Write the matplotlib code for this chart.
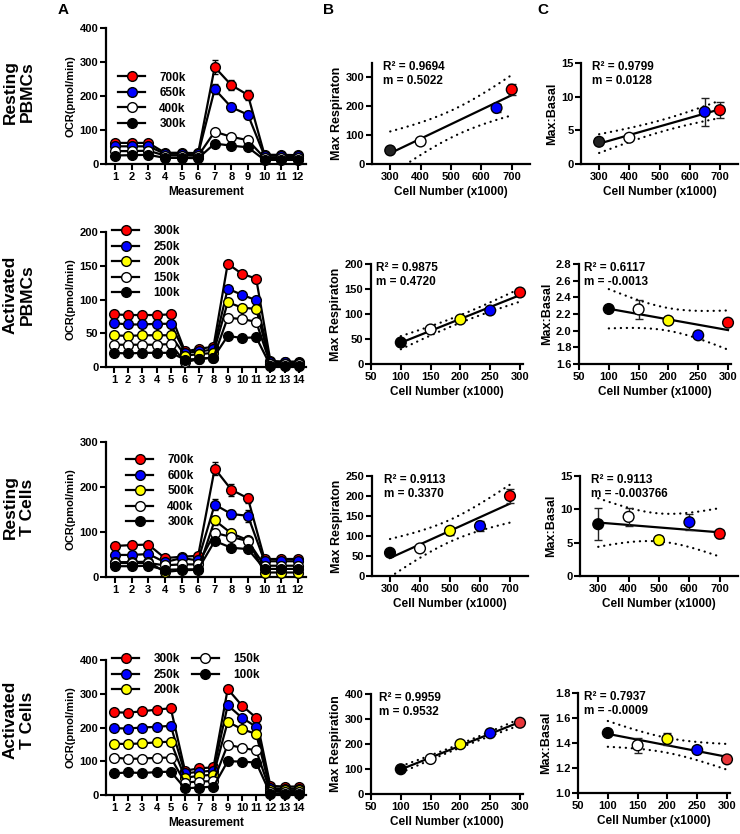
import numpy as np
import matplotlib.pyplot as plt
from matplotlib.lines import Line2D

plt.rcParams['font.family'] = ['Liberation Sans', 'DejaVu Sans']
plt.rcParams['font.weight'] = 'bold'
plt.rcParams['axes.labelweight'] = 'bold'

W, H = 740, 834

# ---------------- data ----------------
# Resting PBMCs (12 measurements)
rp_labels = ['700k', '650k', '400k', '300k']
rp_colors = ['red', 'blue', 'white', 'black']
rp_ocr = [
    [62, 62, 62, 33, 33, 32, 285, 232, 203, 27, 27, 26],
    [52, 52, 52, 30, 30, 29, 220, 167, 145, 24, 24, 23],
    [38, 38, 39, 25, 25, 24, 95, 80, 70, 18, 18, 18],
    [25, 26, 27, 18, 18, 17, 60, 54, 49, 12, 12, 12],
]
rp_ocr_err = [
    [0, 0, 0, 0, 0, 0, 20, 15, 14, 0, 0, 0],
    [0, 0, 0, 0, 0, 0, 15, 12, 12, 0, 0, 0],
    [0, 0, 0, 0, 0, 0, 5, 4, 4, 0, 0, 0],
    [0, 0, 0, 0, 0, 0, 4, 3, 3, 0, 0, 0],
]
rp_cells = [300, 400, 650, 700]
rp_pt_colors = ['#222222', 'white', 'blue', 'red']
rp_maxresp = [47, 78, 194, 258]
rp_maxresp_err = [0, 0, 15, 18]
rp_ratio = [3.3, 3.9, 7.75, 8.0]
rp_ratio_err = [0, 0.4, 2.1, 1.2]

# Activated PBMCs (14 measurements)
ap_labels = ['300k', '250k', '200k', '150k', '100k']
ap_colors = ['red', 'blue', 'yellow', 'white', 'black']
ap_ocr = [
    [78, 77, 77, 77, 78, 23, 27, 30, 153, 138, 131, 9, 8, 8],
    [65, 63, 63, 64, 64, 21, 23, 26, 116, 107, 99, 7, 7, 6],
    [47, 46, 47, 47, 47, 17, 19, 21, 96, 88, 86, 5, 5, 5],
    [33, 33, 33, 33, 34, 7, 12, 14, 73, 71, 67, 4, 4, 4],
    [21, 20, 21, 21, 21, 11, 12, 14, 46, 43, 44, 2, 2, 2],
]
ap_cells = [100, 150, 200, 250, 300]
ap_pt_colors = ['black', 'white', 'yellow', 'blue', 'red']
ap_maxresp = [43, 69, 89, 107, 143]
ap_maxresp_err = [0, 0, 0, 0, 0]
ap_ratio = [2.26, 2.255, 2.12, 1.944, 2.096]
ap_ratio_err = [0, 0.11, 0, 0, 0]

# Resting T cells (12 measurements)
rt_labels = ['700k', '600k', '500k', '400k', '300k']
rt_colors = ['red', 'blue', 'yellow', 'white', 'black']
rt_ocr = [
    [69, 71, 72, 42, 45, 47, 241, 194, 175, 40, 40, 40],
    [49, 49, 51, 33, 42, 37, 161, 140, 136, 35, 35, 35],
    [33, 33, 34, 11, 15, 16, 126, 97, 82, 10, 10, 10],
    [31, 31, 31, 26, 28, 28, 98, 89, 80, 25, 25, 25],
    [24, 24, 25, 16, 17, 17, 80, 65, 62, 18, 18, 18],
]
rt_ocr_err = [
    [0, 0, 0, 0, 0, 0, 14, 13, 10, 0, 0, 0],
    [0, 0, 0, 0, 0, 0, 12, 10, 14, 0, 0, 0],
    [0, 0, 0, 0, 0, 0, 10, 8, 5, 0, 0, 0],
    [0, 0, 0, 0, 0, 0, 8, 5, 4, 0, 0, 0],
    [0, 0, 0, 0, 0, 0, 5, 4, 3, 0, 0, 0],
]
rt_cells = [300, 400, 500, 600, 700]
rt_pt_colors = ['black', 'white', 'yellow', 'blue', 'red']
rt_maxresp = [58, 69, 113, 125, 200]
rt_maxresp_err = [0, 0, 10, 12, 17]
rt_ratio = [7.77, 8.87, 5.38, 8.07, 6.33]
rt_ratio_err = [2.4, 1.4, 0.6, 1.2, 0.6]

# Activated T cells (14 measurements)
at_labels = ['300k', '250k', '200k', '150k', '100k']
at_colors = ['red', 'blue', 'yellow', 'white', 'black']
at_ocr = [
    [245, 244, 248, 253, 257, 72, 79, 82, 314, 265, 229, 27, 25, 25],
    [198, 197, 200, 202, 205, 64, 69, 72, 266, 229, 202, 20, 19, 19],
    [152, 151, 153, 156, 158, 51, 57, 60, 217, 195, 181, 15, 14, 14],
    [111, 107, 108, 110, 111, 37, 40, 41, 149, 140, 132, 10, 9, 9],
    [64, 67, 65, 68, 69, 20, 22, 25, 100, 99, 96, 3, 3, 3],
]
at_cells = [100, 150, 200, 250, 300]
at_pt_colors = ['black', 'white', 'yellow', 'blue', '#e8363a']
at_maxresp = [99, 140, 199, 243, 285]
at_maxresp_err = [0, 0, 0, 0, 0]
at_ratio = [1.48, 1.381, 1.432, 1.344, 1.269]
at_ratio_err = [0, 0.06, 0.05, 0, 0]

stats_text = {
    'rp_b': ('0.9694', '0.5022'), 'rp_c': ('0.9799', '0.0128'),
    'ap_b': ('0.9875', '0.4720'), 'ap_c': ('0.6117', '-0.0013'),
    'rt_b': ('0.9113', '0.3370'), 'rt_c': ('0.9113', '-0.003766'),
    'at_b': ('0.9959', '0.9532'), 'at_c': ('0.7937', '-0.0009'),
}
t_crit = {2: 4.303, 3: 3.182}


# ---------------- helpers ----------------
def add_ax(fig, x0, x1, ytop, ybot):
    return fig.add_axes([x0 / W, 1 - ybot / H, (x1 - x0) / W, (ybot - ytop) / H])


def style(ax):
    ax.spines['top'].set_visible(False)
    ax.spines['right'].set_visible(False)
    ax.spines['left'].set_linewidth(1.6)
    ax.spines['bottom'].set_linewidth(1.6)
    ax.tick_params(width=1.5, length=4, labelsize=8, pad=1.5)


def draw_ocr(ax, series, errs, labels, colors, ymax, ystep, leg_anchor, ncol=1):
    n = len(series[0])
    x = np.arange(1, n + 1)
    handles = []
    for i, (vals, col, lab) in enumerate(zip(series, colors, labels)):
        if errs is not None:
            ax.errorbar(x, vals, yerr=errs[i], fmt='none', ecolor='black',
                        elinewidth=1, capsize=2.5, zorder=2)
        ax.plot(x, vals, color='black', lw=1.6, marker='o', ms=7,
                mfc=col, mec='black', mew=1, zorder=3, clip_on=False)
        handles.append(Line2D([], [], color='black', lw=1.6, marker='o', ms=7,
                              mfc=col, mec='black', mew=1, label=lab))
    style(ax)
    ax.set_xlim(0.45, n + 0.5)
    ax.set_xticks(x)
    ax.set_ylim(0, ymax)
    ax.set_yticks(np.arange(0, ymax + 1, ystep))
    ax.set_ylabel('OCR(pmol/min)', fontsize=8, labelpad=3)
    ax.legend(handles=handles, loc='upper left', bbox_to_anchor=leg_anchor,
              frameon=False, fontsize=8.5, ncol=ncol, handlelength=2.3,
              handletextpad=1.2, labelspacing=0.3, columnspacing=1.0,
              borderaxespad=0, borderpad=0)


def draw_fit(ax, cells, vals, errs, colors, xlim, xticks, ylim, yticks,
             ylabel, key, tx):
    x = np.asarray(cells, float)
    y = np.asarray(vals, float)
    slope, icpt = np.polyfit(x, y, 1)
    xs = np.linspace(x.min(), x.max(), 200)
    yf = icpt + slope * xs
    n = len(x)
    s = np.sqrt(np.sum((y - (icpt + slope * x)) ** 2) / (n - 2))
    se = s * np.sqrt(1 / n + (xs - x.mean()) ** 2 / np.sum((x - x.mean()) ** 2))
    band = t_crit[n - 2] * se
    ax.plot(xs, yf, color='black', lw=1.6, zorder=2)
    for sign in (1, -1):
        ax.plot(xs, yf + sign * band, color='black', lw=1.6,
                ls=(0, (0.1, 2.6)), dash_capstyle='round', zorder=2)
    ax.errorbar(x, y, yerr=errs, fmt='none', ecolor='#222222', elinewidth=1,
                capsize=3, zorder=3, clip_on=False)
    ax.scatter(x, y, s=60, c=colors, edgecolors='black', linewidths=1,
               zorder=4, clip_on=False)
    style(ax)
    ax.set_xlim(*xlim)
    ax.set_xticks(xticks)
    ax.set_ylim(*ylim)
    ax.set_yticks(yticks)
    ax.set_ylabel(ylabel, fontsize=9, labelpad=2)
    ax.set_xlabel('Cell Number (x1000)', fontsize=8.5, labelpad=3)
    r2, m = stats_text[key]
    ax.text(tx, 1.02, f'R\u00b2 = {r2}\nm = {m}', transform=ax.transAxes,
            va='top', ha='left', fontsize=8.5, fontweight='bold',
            linespacing=1.25)


# ---------------- figure ----------------
fig = plt.figure(figsize=(W / 100, H / 100), dpi=100)

# row 1: resting PBMCs
ax = add_ax(fig, 106, 306, 28, 164)
draw_ocr(ax, rp_ocr, rp_ocr_err, rp_labels, rp_colors, 400, 100, (0.06, 0.68))
ax.set_xlabel('Measurement', fontsize=8.5, labelpad=3)
ax = add_ax(fig, 372, 530, 63, 164)
draw_fit(ax, rp_cells, rp_maxresp, rp_maxresp_err, rp_pt_colors, (240, 760),
         [300, 400, 500, 600, 700], (0, 350), [0, 100, 200, 300],
         'Max Respiraton', 'rp_b', 0.07)
ax = add_ax(fig, 581, 738, 63, 164)
draw_fit(ax, rp_cells, rp_ratio, rp_ratio_err, rp_pt_colors, (240, 760),
         [300, 400, 500, 600, 700], (0, 15), [0, 5, 10, 15],
         'Max:Basal', 'rp_c', 0.07)

# row 2: activated PBMCs
ax = add_ax(fig, 106, 306, 232, 367)
draw_ocr(ax, ap_ocr, None, ap_labels, ap_colors, 200, 50, (0.03, 1.05))
ax = add_ax(fig, 371, 523, 264, 364)
draw_fit(ax, ap_cells, ap_maxresp, ap_maxresp_err, ap_pt_colors, (50, 305),
         [50, 100, 150, 200, 250, 300], (0, 200), [0, 50, 100, 150, 200],
         'Max Respiraton', 'ap_b', 0.03)
ax = add_ax(fig, 579, 731, 264, 364)
draw_fit(ax, ap_cells, ap_ratio, ap_ratio_err, ap_pt_colors, (50, 305),
         [50, 100, 150, 200, 250, 300], (1.6, 2.8),
         [1.6, 1.8, 2.0, 2.2, 2.4, 2.6, 2.8], 'Max:Basal', 'ap_c', 0.03)
ax.yaxis.set_major_formatter(plt.FormatStrFormatter('%.1f'))

# row 3: resting T cells
ax = add_ax(fig, 106, 306, 442, 577)
draw_ocr(ax, rt_ocr, rt_ocr_err, rt_labels, rt_colors, 300, 100, (0.1, 0.91))
ax = add_ax(fig, 372, 528, 476, 576)
draw_fit(ax, rt_cells, rt_maxresp, rt_maxresp_err, rt_pt_colors, (240, 760),
         [300, 400, 500, 600, 700], (0, 250), [0, 50, 100, 150, 200, 250],
         'Max Respiraton', 'rt_b', 0.08)
ax = add_ax(fig, 580, 738, 476, 576)
draw_fit(ax, rt_cells, rt_ratio, rt_ratio_err, rt_pt_colors, (240, 760),
         [300, 400, 500, 600, 700], (0, 15), [0, 5, 10, 15],
         'Max:Basal', 'rt_c', 0.07)

# row 4: activated T cells
ax = add_ax(fig, 106, 306, 660, 795)
draw_ocr(ax, at_ocr, None, at_labels, at_colors, 400, 100, (0.03, 1.05), ncol=2)
ax.set_xlabel('Measurement', fontsize=8.5, labelpad=3)
ax = add_ax(fig, 371, 523, 694, 794)
draw_fit(ax, at_cells, at_maxresp, at_maxresp_err, at_pt_colors, (50, 305),
         [50, 100, 150, 200, 250, 300], (0, 400), [0, 100, 200, 300, 400],
         'Max Respiration', 'at_b', 0.05)
ax = add_ax(fig, 578, 730, 693, 793)
draw_fit(ax, at_cells, at_ratio, at_ratio_err, at_pt_colors, (50, 305),
         [50, 100, 150, 200, 250, 300], (1.0, 1.8), [1.0, 1.2, 1.4, 1.6, 1.8],
         'Max:Basal', 'at_c', 0.04)
ax.yaxis.set_major_formatter(plt.FormatStrFormatter('%.1f'))

# row titles and panel letters
for txt, yc in [('Resting\nPBMCs', 92), ('Activated\nPBMCs', 295),
                ('Resting\nT Cells', 507), ('Activated\nT Cells', 720)]:
    fig.text(19 / W, 1 - yc / H, txt, rotation=90, ha='center', va='center',
             fontsize=12.5, fontweight='bold', multialignment='center',
             linespacing=1.2)
for lab, xp in [('A', 63), ('B', 328), ('C', 543)]:
    fig.text(xp / W, 1 - 10 / H, lab, ha='center', va='center',
             fontsize=11, fontweight='bold')

fig.savefig('out.png', dpi=100)
